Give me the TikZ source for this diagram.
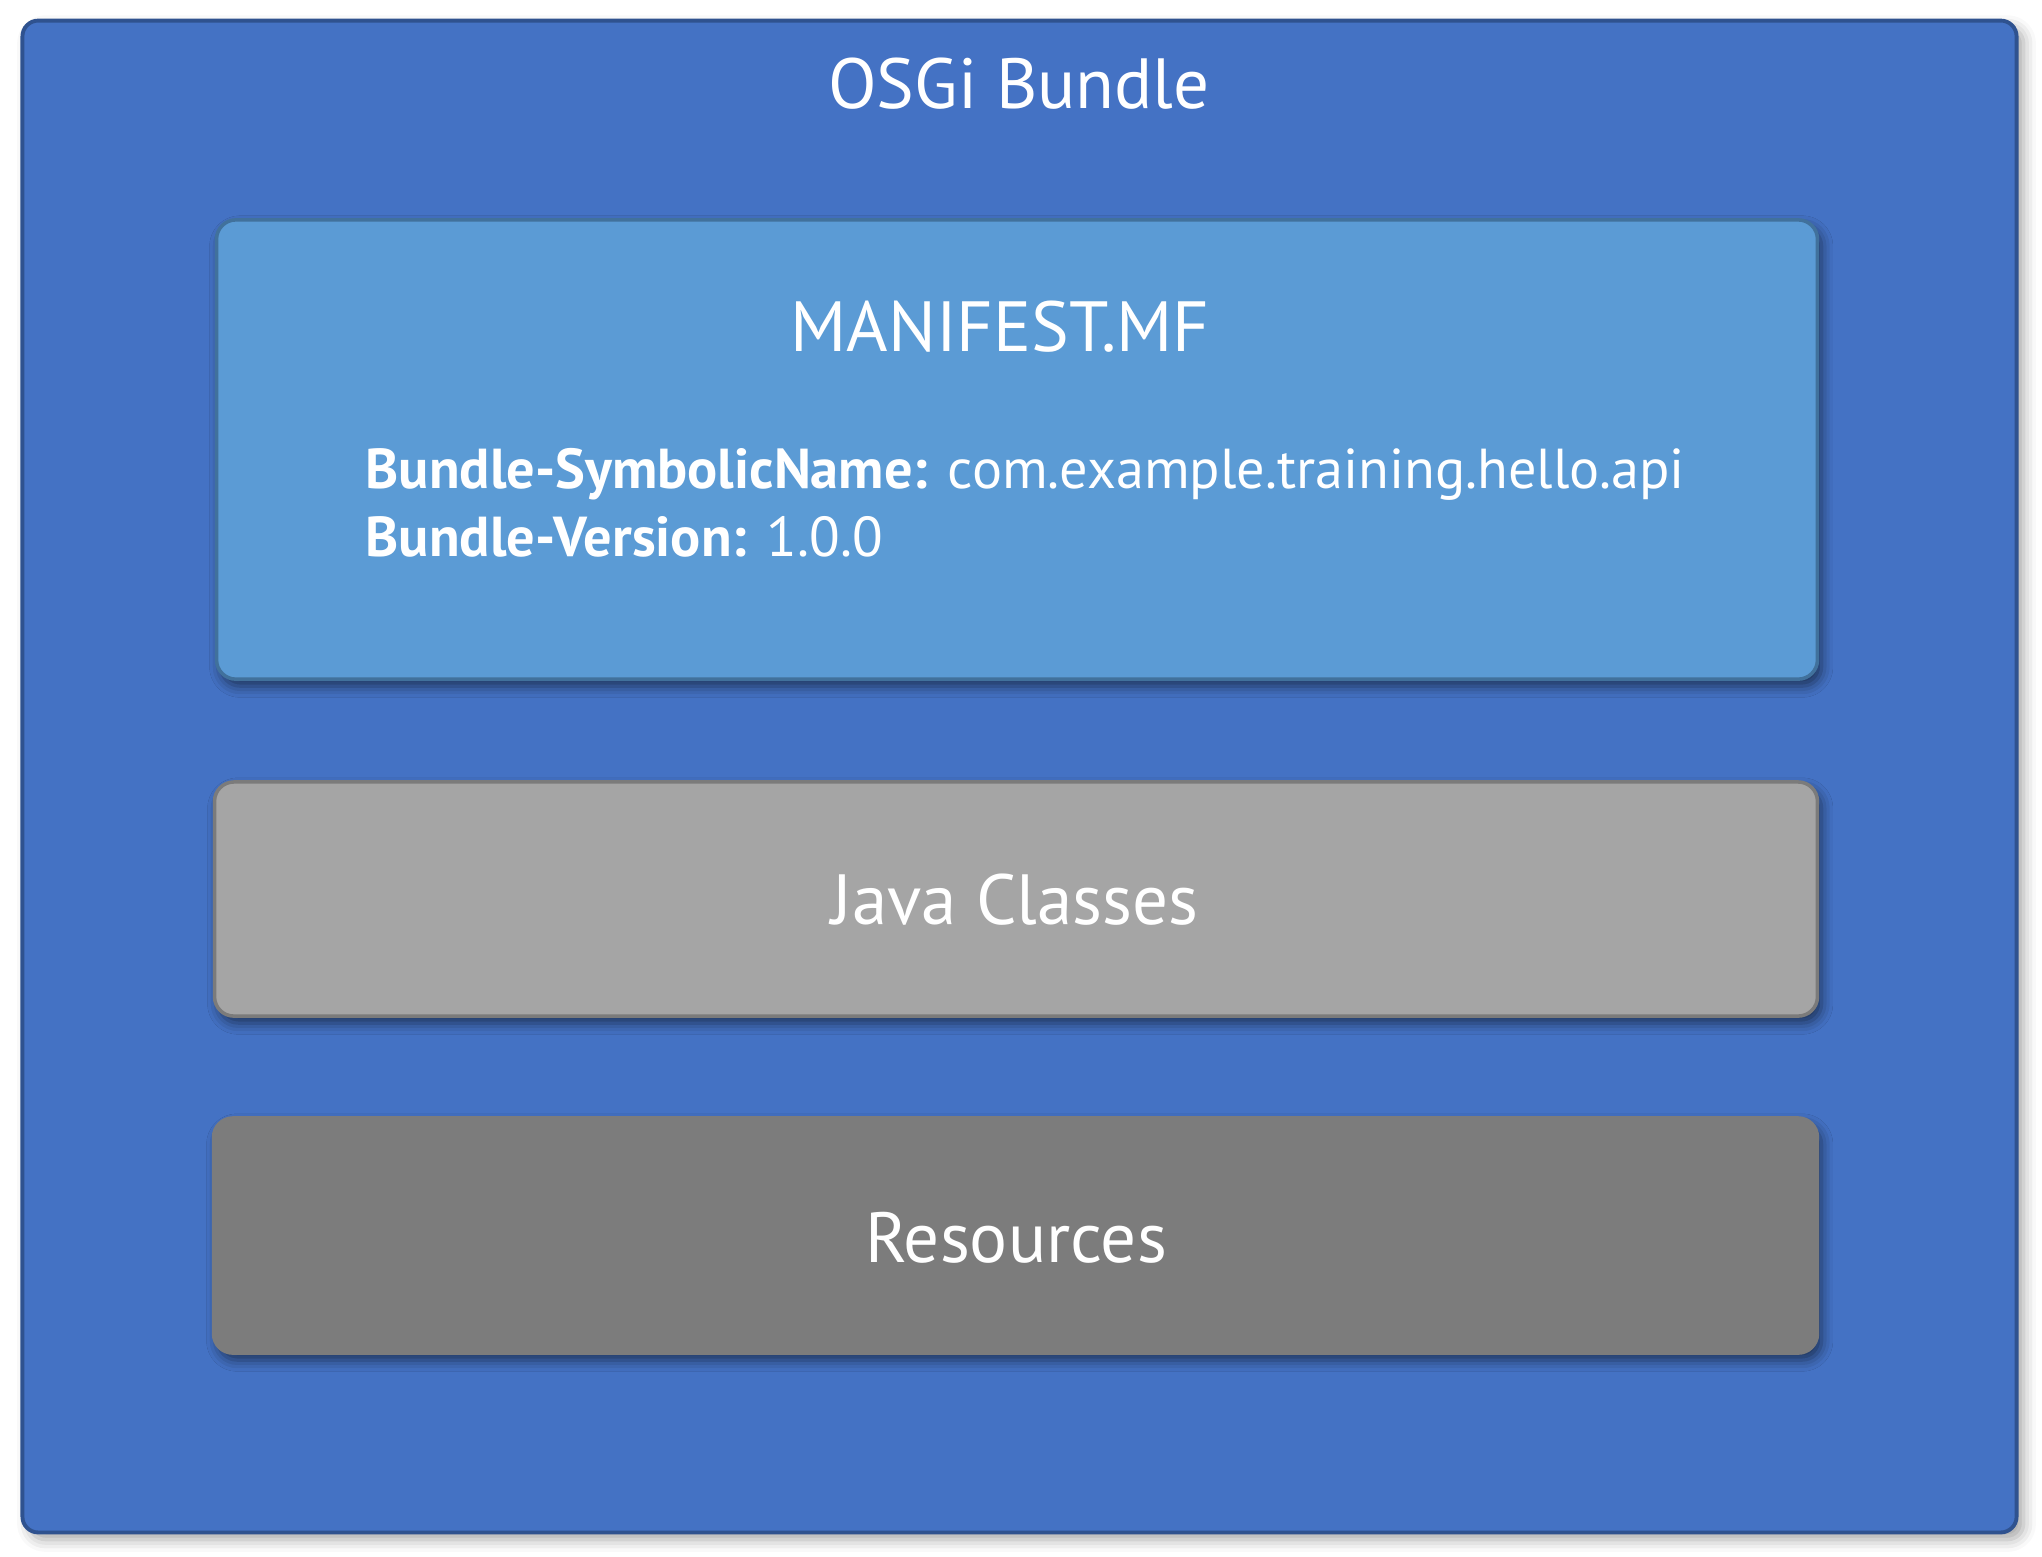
\documentclass[tikz,border=0pt]{standalone}
\usepackage{fontspec}
\setmainfont{PT Sans}
\usetikzlibrary{shadows.blur}
\definecolor{outerfill}{HTML}{4472C4}
\definecolor{outerline}{HTML}{2F528F}
\definecolor{mffill}{HTML}{5B9BD5}
\definecolor{mfline}{HTML}{41719C}
\definecolor{jfill}{HTML}{A5A5A5}
\definecolor{jline}{HTML}{7B7B7B}
\definecolor{rfill}{HTML}{7C7C7C}
\tikzset{
  panel/.style={rectangle, rounded corners=5.5pt, line width=1pt, inner sep=0pt, outer sep=0pt,
    blur shadow={shadow xshift=1.2pt, shadow yshift=-2pt, shadow blur radius=3.2pt, shadow opacity=55}},
  outerbox/.style={rectangle, rounded corners=4.5pt, draw=outerline, fill=outerfill, line width=1.1pt,
    inner sep=0pt, outer sep=0pt, minimum width=19.93cm, minimum height=15.11cm,
    blur shadow={shadow xshift=2pt, shadow yshift=-2pt, shadow blur radius=3.5pt, shadow opacity=35}},
  bigtext/.style={text=white, font=\fontsize{20.2pt}{24pt}\selectfont, inner sep=0pt, anchor=base},
  smalltext/.style={text=white, font=\fontsize{16pt}{19pt}\selectfont, inner sep=0pt, anchor=base west}
}
\begin{document}
\begin{tikzpicture}[x=0.01cm, y=-0.01cm]
\useasboundingbox (0,0) rectangle (2042,1556);
\node[outerbox] (bundle) at (1019.5,776.5) {};
\node[panel, draw=mfline, fill=mffill, minimum width=16.0cm, minimum height=4.59cm] (manifest) at (1017,449.5) {};
\node[panel, draw=jline, fill=jfill, minimum width=16.02cm, minimum height=2.34cm] (java) at (1016,899) {};
\node[panel, draw=rfill, fill=rfill, minimum width=16.03cm, minimum height=2.35cm] (res) at (1015.5,1235.5) {};
\node[bigtext] (title) at (1019,108) {OSGi Bundle};
\node[bigtext] (mftitle) at (1000,351) {MANIFEST.MF};
\node[smalltext] (line1) at (365,488) {\textbf{Bundle-SymbolicName:} com.example.training.hello.api};
\node[smalltext] (line2) at (365,556) {\textbf{Bundle-Version:} 1.0.0};
\node[bigtext] (javatext) at (1015,924) {Java Classes};
\node[bigtext] (restext) at (1016,1262) {Resources};
\end{tikzpicture}
\end{document}
